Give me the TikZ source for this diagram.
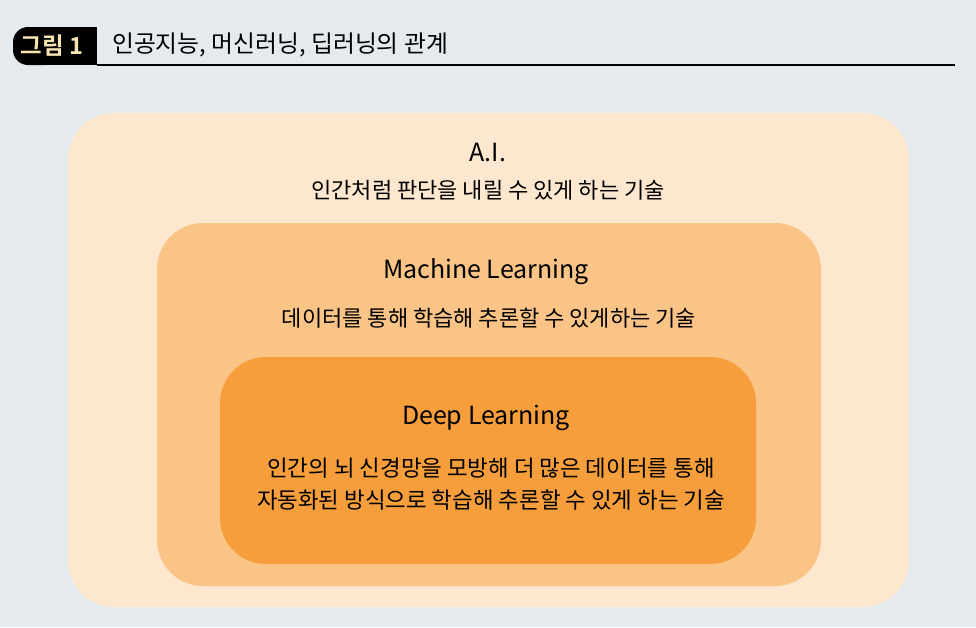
\documentclass[tikz,border=0pt]{standalone}
\usepackage{fontspec}
\setmainfont{Noto Sans CJK KR}[BoldFont={Noto Sans CJK KR Bold}]
\definecolor{bgc}{HTML}{E5EAEE}
\definecolor{outerc}{HTML}{FDE8CF}
\definecolor{midc}{HTML}{F9C486}
\definecolor{innerc}{HTML}{F59E3B}
\definecolor{tagtext}{HTML}{F7E4B0}
\tikzset{
  boxc/.style={rounded corners=46pt},
  head/.style={font=\fontsize{25}{30}\selectfont, inner sep=0pt, anchor=center},
  body/.style={font=\fontsize{22}{32}\selectfont, inner sep=0pt, anchor=center, align=center},
}
\begin{document}
\begin{tikzpicture}[x=1pt,y=-1pt]
\fill[bgc] (0,0) rectangle (976,627);
\useasboundingbox (0,0) rectangle (976,627);
% title tag
\fill[black, rounded corners=15pt] (13,27) rectangle (60,65);
\fill[black] (40,27) rectangle (97,65);
\draw[line width=2pt] (97,65) -- (955,65);
\node[inner sep=0pt, text=tagtext, font=\fontsize{23.5}{26}\selectfont\bfseries] (tag) at (52,46) {그림 1};
\node[inner sep=0pt, anchor=west, font=\fontsize{23.8}{28}\selectfont] (title) at (112,45) {인공지능, 머신러닝, 딥러닝의 관계};
% boxes
\fill[outerc, boxc] (68,113) rectangle (909,607);
\fill[midc, boxc] (157,223) rectangle (821,586);
\fill[innerc, boxc] (220,357) rectangle (756,564);
% texts
\node[head] (ai) at (488,152) {A.I.};
\node[body] (aid) at (488,190) {인간처럼 판단을 내릴 수 있게 하는 기술};
\node[head] (ml) at (486,272) {Machine Learning};
\node[body] (mld) at (489,318) {데이터를 통해 학습해 추론할 수 있게하는 기술};
\node[head] (dl) at (486,418) {Deep Learning};
\node[body, font=\fontsize{22.4}{32}\selectfont] (dld) at (491,484) {인간의 뇌 신경망을 모방해 더 많은 데이터를 통해\\자동화된 방식으로 학습해 추론할 수 있게 하는 기술};
\end{tikzpicture}
\end{document}
